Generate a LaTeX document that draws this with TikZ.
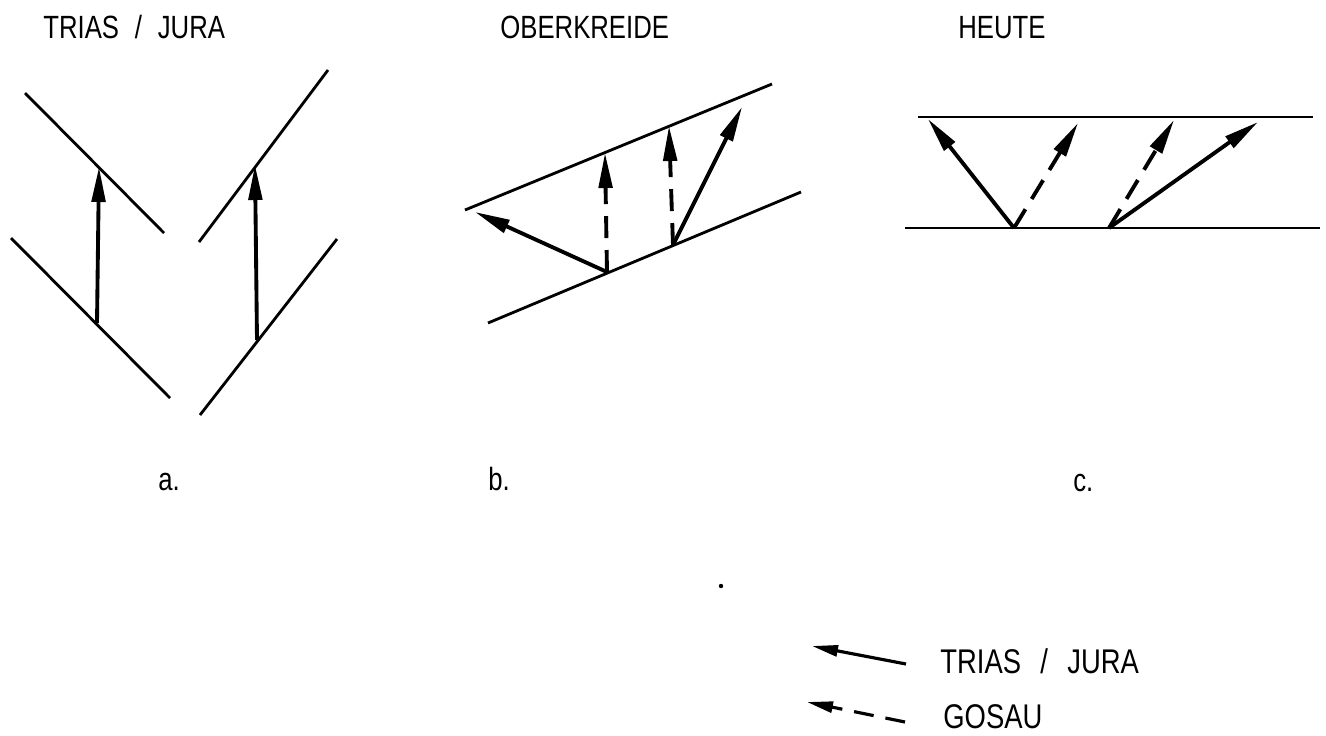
\documentclass[tikz,border=0pt]{standalone}
\usepackage{fontspec}
\setmainfont{Liberation Sans}[FakeStretch=0.8]
\usetikzlibrary{arrows.meta}
\tikzset{
  bed/.style={line width=1.6pt},
  vec/.style={line width=2.2pt,-{Triangle[length=0.7cm,width=0.27cm]}},
  gvec/.style={vec,dash pattern=on 0.44cm off 0.24cm},
  lvec/.style={line width=1.8pt,-{Triangle[length=0.52cm,width=0.22cm]}},
  glvec/.style={lvec,dash pattern=on 0.4cm off 0.24cm},
  lab/.style={anchor=base west,inner sep=0pt,font=\fontsize{18.3pt}{20pt}\selectfont},
  leglab/.style={anchor=base west,inner sep=0pt,font=\fontsize{19.5pt}{21pt}\selectfont}
}
\begin{document}
\begin{tikzpicture}[x=0.02cm,y=-0.02cm]
\useasboundingbox (0,0) rectangle (1326,735);
% titles
\node[lab] (ta) at (43,38) {TRIAS\hspace{9pt}/\hspace{9pt}JURA};
\node[lab] (tb) at (500,38) {OBERKREIDE};
\node[lab] (tc) at (958,38) {HEUTE};
% panel a
\coordinate (a1) at (25,93);  \coordinate (a2) at (164,233);
\coordinate (a3) at (11,238); \coordinate (a4) at (170,398);
\coordinate (a5) at (328,70); \coordinate (a6) at (199,242);
\coordinate (a7) at (337,239);\coordinate (a8) at (200,415);
\draw[bed] (a1) -- (a2);
\draw[bed] (a3) -- (a4);
\draw[bed] (a5) -- (a6);
\draw[bed] (a7) -- (a8);
\coordinate (pa1) at (97,323);  \coordinate (qa1) at (99,167);
\coordinate (pa2) at (257,340); \coordinate (qa2) at (255,165);
\draw[vec] (pa1) -- (qa1);
\draw[vec] (pa2) -- (qa2);
% panel b
\coordinate (b1) at (465,210); \coordinate (b2) at (772,84);
\coordinate (b3) at (488,323); \coordinate (b4) at (801,192);
\draw[bed] (b1) -- (b2);
\draw[bed] (b3) -- (b4);
\coordinate (pb1) at (607,272); \coordinate (pb2) at (673,245);
\coordinate (qb1) at (475,212); \coordinate (qb2) at (605,153);
\coordinate (qb3) at (669,126); \coordinate (qb4) at (742,107);
\draw[vec] (pb1) -- (qb1);
\draw[gvec] (pb1) -- (qb2);
\draw[gvec] (pb2) -- (qb3);
\draw[vec] (pb2) -- (qb4);
% panel c
\coordinate (c1) at (918,117); \coordinate (c2) at (1313,117);
\coordinate (c3) at (905,228); \coordinate (c4) at (1320,228);
\draw[bed] (c1) -- (c2);
\draw[bed] (c3) -- (c4);
\coordinate (pc1) at (1014,228); \coordinate (pc2) at (1109,228);
\coordinate (qc1) at (928,119);  \coordinate (qc2) at (1078,123);
\coordinate (qc3) at (1174,120); \coordinate (qc4) at (1258,122);
\draw[vec] (pc1) -- (qc1);
\draw[gvec] (pc1) -- (qc2);
\draw[gvec] (pc2) -- (qc3);
\draw[vec] (pc2) -- (qc4);
% panel letters
\node[lab] (la) at (158,490) {a.};
\node[lab] (lb) at (488,490) {b.};
\node[lab] (lc) at (1073,491) {c.};
% stray dot
\fill (721,586) circle (2.2);
% legend
\coordinate (l1s) at (906,664); \coordinate (l1e) at (812,646);
\coordinate (l2s) at (905,722); \coordinate (l2e) at (807,702);
\draw[lvec] (l1s) -- (l1e);
\draw[glvec] (l2s) -- (l2e);
\node[leglab] (lt) at (940,673) {TRIAS\hspace{11pt}/\hspace{11pt}JURA};
\node[leglab] (lg) at (943,728) {GOSAU};
\end{tikzpicture}
\end{document}
